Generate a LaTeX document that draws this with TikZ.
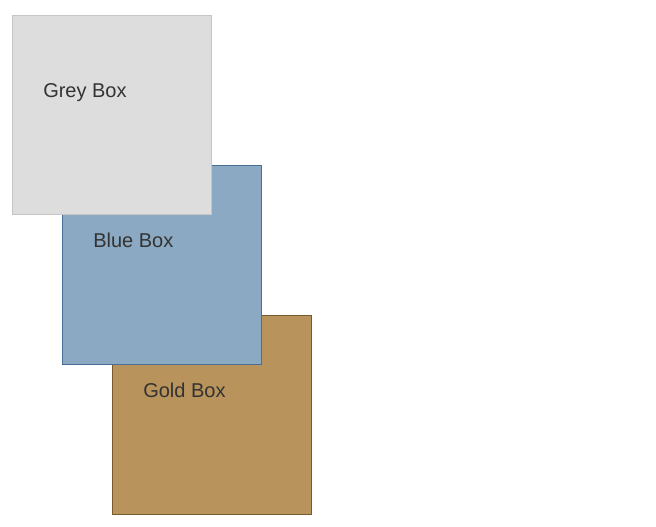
\documentclass[tikz,border=0pt]{standalone}
\usepackage{fontspec}
\setmainfont{Liberation Sans}
\usetikzlibrary{calc, positioning}

\definecolor{greyfill}{HTML}{DDDDDD}
\definecolor{greyline}{HTML}{C6C6C6}
\definecolor{bluefill}{HTML}{8BA9C2}
\definecolor{blueline}{HTML}{4A6F96}
\definecolor{goldfill}{HTML}{B8935C}
\definecolor{goldline}{HTML}{7A5A2A}
\definecolor{labeltext}{HTML}{333333}

\begin{document}
\begin{tikzpicture}[x=0.75pt,y=-0.75pt,
  box/.style={draw, line width=0.75pt, minimum size=149.25pt, inner sep=0pt, outer sep=0pt},
  boxlabel/.style={anchor=base west, inner sep=0pt, text=labeltext, font=\fontsize{15}{18}\selectfont}]
\useasboundingbox (0,0) rectangle (656,526);

\node[box, fill=goldfill, draw=goldline] (gold) at (211.5, 414.5) {};
\node[box, fill=bluefill, draw=blueline] (blue) at (161.5, 264.5) {};
\node[box, fill=greyfill, draw=greyline] (grey) at (111.5, 114.5) {};

\node[boxlabel] (goldlabel) at ($(gold.north west)+(31, 82)$) {Gold Box};
\node[boxlabel] (bluelabel) at ($(blue.north west)+(31, 82)$) {Blue Box};
\node[boxlabel] (greylabel) at ($(grey.north west)+(31, 82)$) {Grey Box};
\end{tikzpicture}
\end{document}
